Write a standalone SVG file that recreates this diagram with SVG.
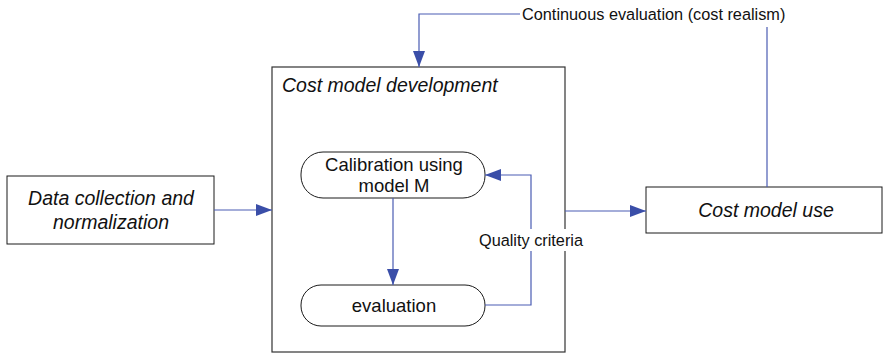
<svg xmlns="http://www.w3.org/2000/svg" width="883" height="354" viewBox="0 0 883 354">
  <style>
    .box { fill: #ffffff; stroke: #1a1a1a; stroke-width: 1; }
    .outer { fill: #ffffff; stroke: #333333; stroke-width: 1.2; }
    .pill { fill: #ffffff; stroke: #1a1a1a; stroke-width: 1; }
    .link { fill: none; stroke: #4a5cb3; stroke-width: 1.2; }
    text { font-family: "Liberation Sans", Arial, sans-serif; fill: #111111; }
    .it { font-style: italic; font-size: 19.5px; }
    .node { font-size: 18.5px; }
    .lbl { font-size: 16.3px; }
  </style>
  <defs>
    <marker id="arrow" markerUnits="userSpaceOnUse" markerWidth="16" markerHeight="12" refX="16" refY="6" orient="auto">
      <path d="M0,0 L16,6 L0,12 z" fill="#3a4ea8"/>
    </marker>
  </defs>

  <!-- development container -->
  <g id="cost-model-development">
    <rect class="outer" x="272" y="67" width="293" height="285"/>
    <text class="it" x="282" y="92">Cost model development</text>
  </g>

  <g id="data-collection">
    <rect class="box" x="7" y="176" width="207" height="68"/>
    <text class="it" x="111" y="205" text-anchor="middle">Data collection and</text>
    <text class="it" x="111" y="229" text-anchor="middle">normalization</text>
  </g>

  <g id="cost-model-use">
    <rect class="box" x="646" y="187" width="236" height="46"/>
    <text class="it" x="766" y="217" text-anchor="middle">Cost model use</text>
  </g>

  <g id="calibration">
    <rect class="pill" x="301" y="152" width="184" height="46" rx="22" ry="22"/>
    <text class="node" x="394" y="171" text-anchor="middle">Calibration using</text>
    <text class="node" x="394" y="192" text-anchor="middle">model M</text>
  </g>

  <g id="evaluation">
    <rect class="pill" x="301" y="285" width="184" height="41" rx="20" ry="20"/>
    <text class="node" x="394" y="312" text-anchor="middle">evaluation</text>
  </g>

  <g id="connectors">
    <path class="link" d="M214,210 H272" marker-end="url(#arrow)"/>
    <path class="link" d="M565,211 H646" marker-end="url(#arrow)"/>
    <path class="link" d="M393,198 V285" marker-end="url(#arrow)"/>
    <path class="link" d="M485,305 H531 V175 H485" marker-end="url(#arrow)"/>
    <path class="link" d="M520,14 H419 V67" marker-end="url(#arrow)"/>
    <path class="link" d="M767,27 V187"/>
    <rect x="478" y="229" width="106" height="22" fill="#ffffff"/>
    <text class="lbl" x="531" y="246" text-anchor="middle">Quality criteria</text>
    <text class="lbl" x="522" y="20">Continuous evaluation (cost realism)</text>
  </g>
</svg>
